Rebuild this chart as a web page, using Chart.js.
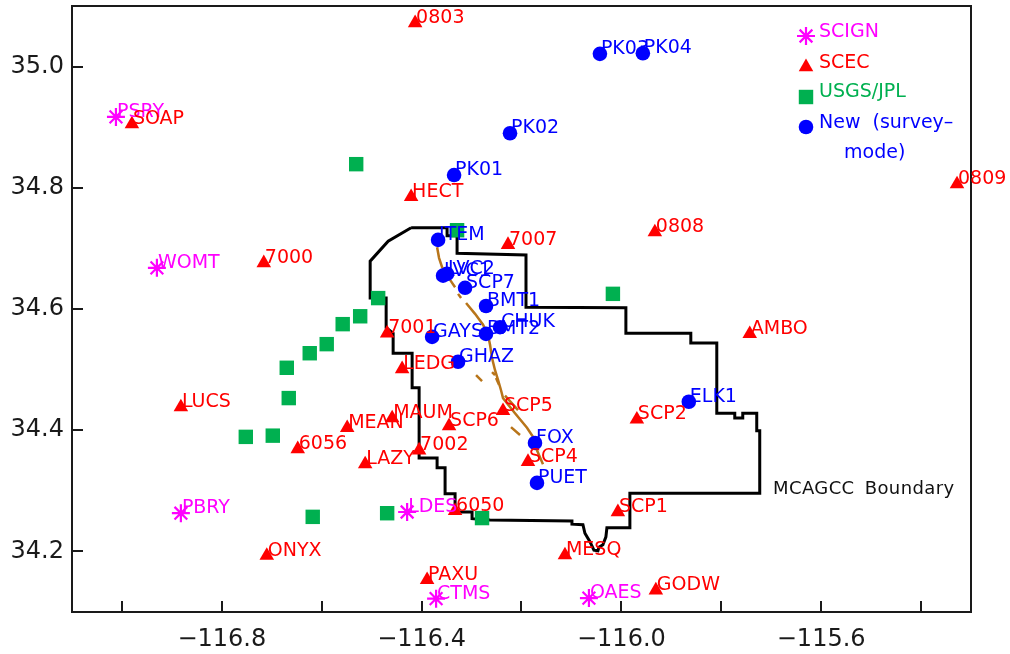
<!DOCTYPE html>
<html>
<head>
<meta charset="utf-8">
<style>html,body{margin:0;padding:0;background:#fff}canvas{display:block}</style>
<script src="https://cdn.jsdelivr.net/npm/chart.js@4"></script>
</head>
<body>
<canvas id="c" width="1010" height="654"></canvas>
<script>
const xTickValues = [-117.0,-116.8,-116.6,-116.4,-116.2,-116.0,-115.8,-115.6,-115.4];
const xTickLabelled = [-116.8,-116.4,-116.0,-115.6];
const yTickValues = [34.2,34.4,34.6,34.8,35.0];

const scignNames = ['PSRY','WOMT','PBRY','LDES','CTMS','OAES'];
const scignLon = [-117.012,-116.930,-116.882,-116.429,-116.371,-116.065];
const scignLat = [34.917,34.668,34.263,34.265,34.122,34.123];

const scecNames = ['SOAP','0803','HECT','7007','0808','0809','7000','AMBO','7001','LEDG','LUCS','MEAN','MAUM','SCP6','SCP5','SCP2','6056','7002','LAZY','SCP4','SCP1','6050','MESQ','ONYX','PAXU','GODW'];
const scecLon = [-116.980,-116.413,-116.421,-116.227,-115.933,-115.328,-116.716,-115.743,-116.469,-116.439,-116.882,-116.549,-116.459,-116.345,-116.237,-115.969,-116.648,-116.405,-116.513,-116.187,-116.007,-116.333,-116.113,-116.710,-116.389,-115.931];
const scecLat = [34.905,35.072,34.785,34.706,34.727,34.806,34.676,34.559,34.560,34.501,34.438,34.404,34.420,34.407,34.432,34.418,34.369,34.367,34.344,34.348,34.265,34.267,34.194,34.193,34.153,34.136];

const usgsLon = [-116.531,-116.329,-116.487,-116.523,-116.558,-116.590,-116.624,-116.670,-116.666,-116.752,-116.698,-116.618,-116.469,-116.279,-116.017];
const usgsLat = [34.839,34.730,34.618,34.588,34.575,34.542,34.527,34.503,34.453,34.389,34.391,34.257,34.263,34.255,34.625];

const newNames = ['PK03','PK04','PK02','PK01','ITEM','LVC1','LVC2','SCP7','BMT1','CHUK','BMT2','GAYS','GHAZ','ELK1','FOX','PUET'];
const newLon = [-116.043,-115.957,-116.223,-116.335,-116.367,-116.357,-116.349,-116.313,-116.271,-116.243,-116.271,-116.379,-116.327,-115.865,-116.173,-116.169];
const newLat = [35.021,35.022,34.890,34.821,34.714,34.655,34.658,34.635,34.605,34.570,34.559,34.554,34.513,34.447,34.379,34.313];

const boundaryLon = [-116.421,-116.349,-116.349,-116.329,-116.329,-116.191,-116.191,-115.991,-115.991,-115.861,-115.861,-115.809,-115.809,-115.773,-115.773,-115.757,-115.757,-115.729,-115.729,-115.723,-115.723,-115.983,-115.983,-116.029,-116.031,-116.037,-116.045,-116.047,-116.055,-116.063,-116.073,-116.077,-116.099,-116.099,-116.263,-116.299,-116.299,-116.333,-116.333,-116.353,-116.353,-116.369,-116.369,-116.405,-116.405,-116.419,-116.419,-116.457,-116.457,-116.471,-116.471,-116.503,-116.503,-116.467,-116.421];
const boundaryLat = [34.734,34.734,34.721,34.721,34.692,34.689,34.603,34.602,34.560,34.560,34.544,34.544,34.428,34.428,34.420,34.420,34.428,34.428,34.399,34.399,34.296,34.296,34.239,34.239,34.224,34.211,34.207,34.201,34.202,34.216,34.230,34.244,34.245,34.250,34.252,34.254,34.265,34.265,34.295,34.295,34.338,34.338,34.354,34.354,34.470,34.470,34.527,34.527,34.560,34.569,34.618,34.618,34.679,34.712,34.734];

const faultLon = [-116.369,-116.365,-116.359,-116.343,-116.333,null,-116.327,-116.321,null,-116.311,-116.293,-116.277,-116.267,-116.263,-116.259,-116.253,-116.247,-116.241,-116.237,-116.213,-116.189,-116.177,-116.169,-116.157,null,-116.233,-116.207,null,-116.221,-116.203,null,-116.291,-116.279,null,-116.259,-116.253,null,-116.251,-116.245];
const faultLat = [34.702,34.684,34.669,34.648,34.636,null,34.625,34.618,null,34.610,34.592,34.574,34.557,34.541,34.519,34.499,34.483,34.466,34.453,34.428,34.404,34.389,34.367,34.344,null,34.457,34.433,null,34.405,34.392,null,34.491,34.481,null,34.496,34.491,null,34.486,34.475];

const MAGENTA='#ff00ff', RED='#ff0000', GREEN='#00b050', BLUE='#0000ff', BROWN='#b8751a', INK='#1a1a1a';
const pts = (xs,ys)=>xs.map((x,i)=>({x,y:ys[i]}));
const LABEL_FONT='19px "DejaVu Sans"';

const markerStyles = {
  star:{pointStyle:'star',radius:9,borderWidth:2.2,borderColor:MAGENTA,backgroundColor:MAGENTA},
  tri:{pointStyle:'triangle',radius:8.4,borderWidth:0,borderColor:RED,backgroundColor:RED},
  rect:{pointStyle:'rect',radius:10.2,borderWidth:0,borderColor:GREEN,backgroundColor:GREEN},
  circle:{pointStyle:'circle',radius:7.3,borderWidth:0,borderColor:BLUE,backgroundColor:BLUE}
};
const markerDs=(label,data,s,order)=>({label,data,order,showLine:false,pointStyle:s.pointStyle,pointRadius:s.radius,pointBorderWidth:s.borderWidth,pointBorderColor:s.borderColor,pointBackgroundColor:s.backgroundColor});
const lineDs=(label,data,color,width,order)=>({label,data,order,showLine:true,spanGaps:false,pointRadius:0,borderColor:color,borderWidth:width,borderJoinStyle:'miter',tension:0});

const labelSets=[
  {names:scignNames,lon:scignLon,lat:scignLat,color:MAGENTA},
  {names:scecNames,lon:scecLon,lat:scecLat,color:RED},
  {names:newNames,lon:newLon,lat:newLat,color:BLUE}
];

const frame={
  id:'frame',
  beforeDatasetsDraw(ch){
    const {ctx,chartArea:a,scales:{x,y}}=ch;
    ctx.save();
    ctx.strokeStyle=INK;ctx.lineWidth=2;
    ctx.strokeRect(a.left,a.top,a.right-a.left,a.bottom-a.top);
    ctx.beginPath();
    xTickValues.forEach(v=>{const p=Math.round(x.getPixelForValue(v));ctx.moveTo(p,a.bottom);ctx.lineTo(p,a.bottom-11);});
    yTickValues.forEach(v=>{const p=Math.round(y.getPixelForValue(v));ctx.moveTo(a.left,p);ctx.lineTo(a.left+11,p);});
    ctx.stroke();
    ctx.restore();
  }
};
const labels={
  id:'labels',
  afterDatasetsDraw(ch){
    const {ctx,scales:{x,y}}=ch;
    ctx.save();
    ctx.font=LABEL_FONT;ctx.textAlign='left';ctx.textBaseline='alphabetic';
    labelSets.forEach(s=>{
      ctx.fillStyle=s.color;
      s.names.forEach((n,i)=>{ ctx.fillText(n,x.getPixelForValue(s.lon[i])+1,y.getPixelForValue(s.lat[i])); });
    });
    const legend=[['SCIGN',markerStyles.star,MAGENTA,36,37],['SCEC',markerStyles.tri,RED,67,68],['USGS/JPL',markerStyles.rect,GREEN,97,97],['New  (survey\u2013',markerStyles.circle,BLUE,127,128]];
    legend.forEach(l=>{
      ctx.save();
      ctx.fillStyle=l[2];ctx.strokeStyle=l[2];ctx.lineWidth=l[1].borderWidth;
      Chart.helpers.drawPoint(ctx,{pointStyle:l[1].pointStyle,radius:l[1].radius,rotation:0,borderWidth:l[1].borderWidth},806,l[3]);
      ctx.restore();
      ctx.fillStyle=l[2];
      ctx.fillText(l[0],819,l[4]);
    });
    ctx.fillStyle=BLUE;
    ctx.fillText('mode)',844,158);
    ctx.fillStyle='#111';
    ctx.save();
    ctx.font='18px "DejaVu Sans"';
    ctx.wordSpacing='4px';
    ctx.letterSpacing='0.4px';
    ctx.fillText('MCAGCC Boundary',773,494);
    ctx.restore();
    ctx.restore();
  }
};

new Chart(document.getElementById('c'),{
  type:'scatter',
  data:{datasets:[
    lineDs('Fault',pts(faultLon,faultLat),BROWN,2.5,6),
    lineDs('MCAGCC Boundary',pts(boundaryLon,boundaryLat),'#000',3,5),
    markerDs('USGS/JPL',pts(usgsLon,usgsLat),markerStyles.rect,4),
    markerDs('SCIGN',pts(scignLon,scignLat),markerStyles.star,3),
    markerDs('SCEC',pts(scecLon,scecLat),markerStyles.tri,2),
    markerDs('New (survey-mode)',pts(newLon,newLat),markerStyles.circle,1)
  ]},
  options:{
    responsive:false,animation:false,
    layout:{autoPadding:false,padding:{left:0,top:6,right:39,bottom:0}},
    plugins:{legend:{display:false},tooltip:{enabled:false},title:{display:false}},
    scales:{
      x:{type:'linear',min:-117.1,max:-115.3,
        afterBuildTicks:s=>{s.ticks=xTickValues.map(value=>({value}));},
        afterFit:s=>{s.height=42;s.paddingLeft=0;s.paddingRight=0;},
        grid:{display:false},border:{display:false},
        ticks:{autoSkip:false,maxRotation:0,padding:5,color:INK,font:{family:'"DejaVu Sans"',size:24},
          callback:v=>xTickLabelled.some(t=>Math.abs(t-v)<1e-6)?'\u2212'+Math.abs(v).toFixed(1):''}},
      y:{type:'linear',min:34.1,max:35.1,
        afterBuildTicks:s=>{s.ticks=yTickValues.map(value=>({value}));},
        afterFit:s=>{s.width=72;s.paddingTop=0;s.paddingBottom=0;},
        grid:{display:false},border:{display:false},
        ticks:{autoSkip:false,padding:0,color:INK,font:{family:'"DejaVu Sans"',size:24},callback:v=>v.toFixed(1)}}
    }
  },
  plugins:[frame,labels]
});
</script>
</body>
</html>
